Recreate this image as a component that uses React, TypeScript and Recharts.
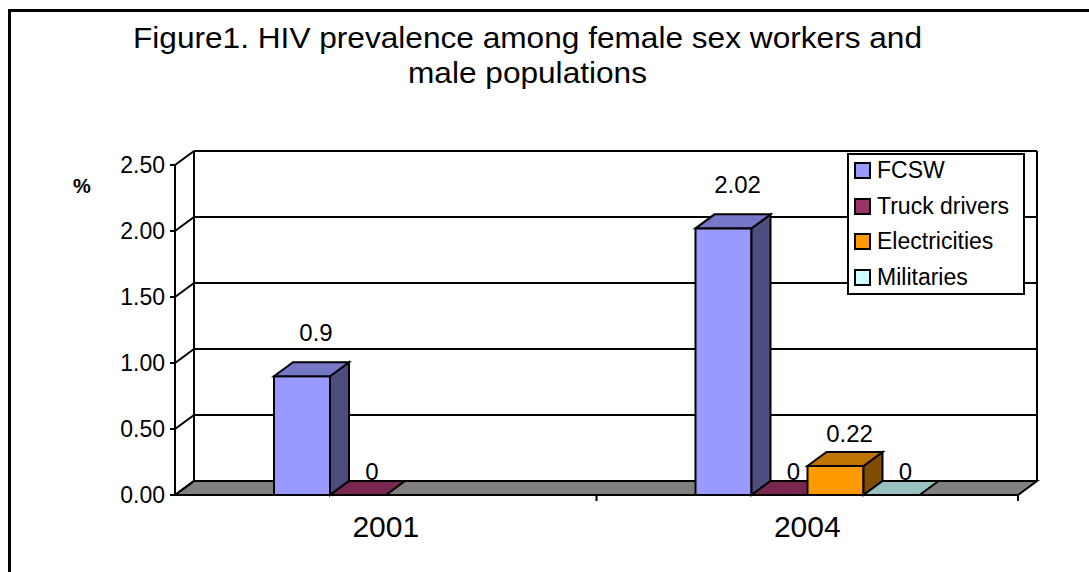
import { Bar, BarChart, CartesianGrid, Legend, XAxis, YAxis } from "recharts";

const CATEGORIES = ["2001", "2004"];
const FCSW = [0.9, 2.02];
const TRUCK_DRIVERS = [0, 0];
const ELECTRICITIES = [null, 0.22];
const MILITARIES = [null, 0];
const Y_TICKS = [0, 0.5, 1, 1.5, 2, 2.5];

const FONT = "'Liberation Sans', Arial, sans-serif";
// depth of the fake 3D box
const DX = 19;
const DY = 14;

const SERIES = [
  { key: "fcsw", name: "FCSW", values: FCSW, front: "#9999FF", top: "#7777C8", side: "#4D4D80" },
  { key: "truck", name: "Truck drivers", values: TRUCK_DRIVERS, front: "#993366", top: "#772650", side: "#4D1A33" },
  { key: "elec", name: "Electricities", values: ELECTRICITIES, front: "#FF9900", top: "#BF7300", side: "#804D00" },
  { key: "mil", name: "Militaries", values: MILITARIES, front: "#CCFFFF", top: "#99C0C0", side: "#668080" },
];

const data = CATEGORIES.map((year, i) => {
  const row: Record<string, any> = { year };
  SERIES.forEach((s) => (row[s.key] = s.values[i]));
  return row;
});

function barShape(s: (typeof SERIES)[number]) {
  return (props: any) => {
    const { x, y, width: w, height: h, payload } = props;
    const v = payload ? payload[s.key] : null;
    if (v == null || isNaN(x) || isNaN(y)) return <g />;
    const top = y;
    const base = y + h;
    const lift = 24 + 40 * Math.min(v, 0.5);
    return (
      <g stroke="#000" strokeWidth={2} strokeLinejoin="miter">
        {h > 0 && <rect x={x} y={top} width={w} height={h} fill={s.front} />}
        {h > 0 && (
          <polygon
            points={`${x + w},${top} ${x + w + DX},${top - DY} ${x + w + DX},${base - DY} ${x + w},${base}`}
            fill={s.side}
          />
        )}
        <polygon
          points={`${x},${top} ${x + w},${top} ${x + w + DX},${top - DY} ${x + DX},${top - DY}`}
          fill={s.top}
        />
        <text
          x={x + w / 2 + 14}
          y={top - lift + 8.5}
          textAnchor="middle"
          stroke="none"
          fill="#000"
          fontSize={24}
          fontFamily={FONT}
        >
          {String(v)}
        </text>
      </g>
    );
  };
}

// back wall gridlines, side wall diagonals and floor
function WallLine(props: any) {
  const { x1, x2, y1, index, y, height } = props;
  const hasBox = typeof y === "number" && typeof height === "number";
  const isFloor = hasBox ? Math.abs(y1 - (y + height)) < 1 : index === 0;
  const isTop = hasBox ? Math.abs(y1 - y) < 1 : index === Y_TICKS.length - 1;
  const n = CATEGORIES.length;
  return (
    <g stroke="#000" strokeWidth={2} fill="none">
      {isFloor && (
        <polygon
          points={`${x1},${y1} ${x2},${y1} ${x2 + DX},${y1 - DY} ${x1 + DX},${y1 - DY}`}
          fill="#808080"
        />
      )}
      {isFloor &&
        CATEGORIES.map((_, k) => {
          const tx = x1 + ((x2 - x1) * (k + 1)) / n;
          return <line key={k} x1={tx} y1={y1} x2={tx} y2={y1 + 6} />;
        })}
      {isTop && hasBox && (
        <>
          <line x1={x1 + DX} y1={y1 - DY} x2={x1 + DX} y2={y1 + height - DY} />
          <line x1={x2 + DX} y1={y1 - DY} x2={x2 + DX} y2={y1 + height - DY} />
        </>
      )}
      <line x1={x1} y1={y1} x2={x1 + DX} y2={y1 - DY} />
      <line x1={x1 + DX} y1={y1 - DY} x2={x2 + DX} y2={y1 - DY} />
    </g>
  );
}

function YTick({ x, y, payload }: any) {
  return (
    <text x={x} y={y + 8} textAnchor="end" fontSize={23} fontFamily={FONT} fill="#000">
      {Number(payload.value).toFixed(2)}
    </text>
  );
}

function XTick({ x, y, payload }: any) {
  return (
    <text x={x} y={y + 42} textAnchor="middle" fontSize={30} fontFamily={FONT} fill="#000">
      {payload.value}
    </text>
  );
}

function LegendBox({ payload }: any) {
  const order = SERIES.map((s) => s.name);
  const items = [...(payload || [])].sort(
    (a: any, b: any) => order.indexOf(a.value) - order.indexOf(b.value)
  );
  return (
    <div
      style={{
        boxSizing: "border-box",
        width: 178,
        height: 142,
        border: "2px solid #000",
        background: "#fff",
        fontFamily: FONT,
        fontSize: 23,
        color: "#000",
      }}
    >
      <div style={{ marginTop: -2 }}>
        {items.map((item: any) => (
          <div key={item.value} style={{ display: "flex", alignItems: "center", height: 35.5 }}>
            <span
              style={{
                boxSizing: "border-box",
                width: 17,
                height: 17,
                marginLeft: 5,
                marginRight: 6,
                border: "2px solid #000",
                background: item.color,
              }}
            />
            <span style={{ lineHeight: 1 }}>{item.value}</span>
          </div>
        ))}
      </div>
    </div>
  );
}

export default function App() {
  return (
    <div
      style={{
        position: "absolute",
        left: 0,
        top: 0,
        width: 1089,
        height: 572,
        overflow: "hidden",
        background: "#fff",
      }}
    >
      <div
        style={{
          position: "absolute",
          left: 8,
          top: 9,
          width: 1200,
          height: 700,
          border: "3px solid #000",
        }}
      />
      <svg
        width={1089}
        height={572}
        style={{ position: "absolute", left: 0, top: 0, pointerEvents: "none" }}
      >
        <text x={527.5} y={48} textAnchor="middle" fontSize={30} fontFamily={FONT} textLength={789} lengthAdjust="spacingAndGlyphs">
          Figure1. HIV prevalence among female sex workers and
        </text>
        <text x={527.5} y={83} textAnchor="middle" fontSize={30} fontFamily={FONT} textLength={239} lengthAdjust="spacingAndGlyphs">
          male populations
        </text>
        <text x={82} y={193} textAnchor="middle" fontSize={20} fontWeight="bold" fontFamily={FONT}>
          %
        </text>
      </svg>
      <div style={{ position: "absolute", left: 0, top: 0 }}>
        <BarChart
          width={1089}
          height={572}
          data={data}
          margin={{ top: 165, right: 71, bottom: 47, left: 115 }}
          barGap={0}
          barSize={56}
        >
          <CartesianGrid vertical={false} horizontal={WallLine} stroke="#000" strokeWidth={2} />
          <XAxis
            dataKey="year"
            axisLine={false}
            tickLine={false}
            tickSize={0}
            tickMargin={0}
            height={30}
            tick={<XTick />}
          />
          <YAxis
            domain={[0, 2.5]}
            ticks={Y_TICKS}
            interval={0}
            width={60}
            axisLine={{ stroke: "#000", strokeWidth: 2 }}
            tickLine={{ stroke: "#000", strokeWidth: 2 }}
            tickSize={5}
            tickMargin={5}
            tick={<YTick />}
          />
          <Legend
            layout="horizontal"
            verticalAlign="middle"
            align="center"
            wrapperStyle={{ left: 847, top: 153, width: 178, height: 142 }}
            content={<LegendBox />}
          />
          {SERIES.map((s) => (
            <Bar
              key={s.key}
              dataKey={s.key}
              name={s.name}
              fill={s.front}
              shape={barShape(s)}
              isAnimationActive={false}
            />
          ))}
        </BarChart>
      </div>
    </div>
  );
}
